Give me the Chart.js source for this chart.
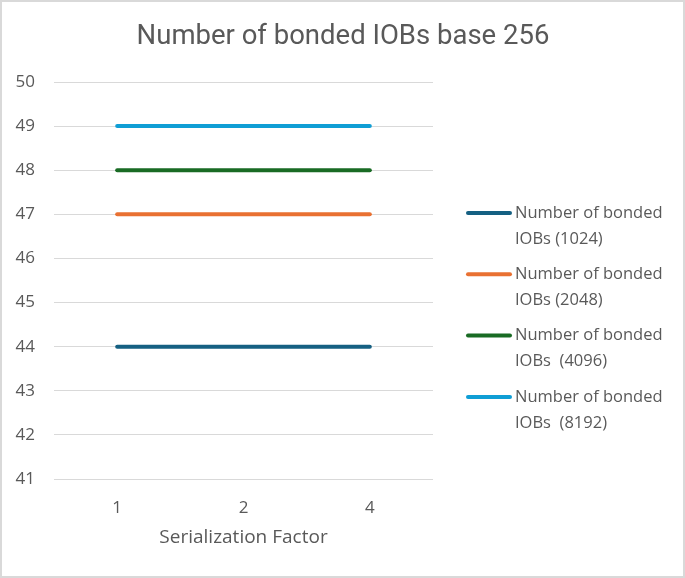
<!DOCTYPE html>
<html>
<head>
<meta charset="utf-8">
<script src="https://cdn.jsdelivr.net/npm/chart.js@4.4.1/dist/chart.umd.min.js"></script>
<style>
  html, body { margin: 0; padding: 0; background: #fff; }
</style>
</head>
<body>
<canvas id="myChart" width="685" height="578"></canvas>
<script>
// data
var categories = ['1', '2', '4'];
var iobs_1024 = [44, 44, 44];
var iobs_2048 = [47, 47, 47];
var iobs_4096 = [48, 48, 48];
var iobs_8192 = [49, 49, 49];
var yTicks = [41, 42, 43, 44, 45, 46, 47, 48, 49, 50];

var legendText = [
  ['Number of bonded', 'IOBs (1024)'],
  ['Number of bonded', 'IOBs (2048)'],
  ['Number of bonded', 'IOBs  (4096)'],
  ['Number of bonded', 'IOBs  (8192)']
];

var textColor = '#595959';
var baseFont = "'Open Sans', sans-serif";

function makeSet(label, values, color) {
  return {
    label: label,
    data: values,
    borderColor: color,
    backgroundColor: color,
    borderWidth: 4,
    borderCapStyle: 'round',
    pointRadius: 0,
    fill: false
  };
}

// title, legend and frame drawn by hand
var decor = {
  id: 'decor',
  afterDraw: function (chart) {
    var ctx = chart.ctx;
    ctx.save();
    ctx.strokeStyle = '#d9d9d9';
    ctx.lineWidth = 2;
    ctx.strokeRect(1, 1, chart.width - 2, chart.height - 2);

    ctx.fillStyle = textColor;
    ctx.textAlign = 'center';
    ctx.textBaseline = 'middle';
    ctx.font = "27.5px 'Roboto', sans-serif";
    ctx.fillText('Number of bonded IOBs base 256', 343, 37);

    ctx.font = '16.5px ' + baseFont;
    ctx.textAlign = 'left';
    chart.data.datasets.forEach(function (ds, i) {
      var y = 213 + i * 61.3;
      ctx.strokeStyle = ds.borderColor;
      ctx.lineWidth = 4;
      ctx.lineCap = 'round';
      ctx.beginPath();
      ctx.moveTo(468, y);
      ctx.lineTo(510, y);
      ctx.stroke();
      ctx.fillStyle = textColor;
      ctx.fillText(legendText[i][0], 515, y);
      ctx.fillText(legendText[i][1], 515, y + 26);
    });
    ctx.restore();
  }
};

var config = {
  type: 'line',
  data: {
    labels: categories,
    datasets: [
      makeSet('Number of bonded IOBs (1024)', iobs_1024, '#156082'),
      makeSet('Number of bonded IOBs (2048)', iobs_2048, '#e97132'),
      makeSet('Number of bonded IOBs (4096)', iobs_4096, '#196b24'),
      makeSet('Number of bonded IOBs (8192)', iobs_8192, '#0f9ed5')
    ]
  },
  options: {
    responsive: false,
    devicePixelRatio: 1,
    animation: false,
    layout: {
      padding: { top: 82, right: 252, bottom: 19, left: 0 }
    },
    plugins: {
      legend: { display: false },
      title: { display: false },
      tooltip: { enabled: false }
    },
    scales: {
      x: {
        offset: true,
        grid: { display: false },
        border: { display: false },
        ticks: {
          color: textColor,
          font: { family: baseFont, size: 17 },
          padding: 11
        },
        title: {
          display: true,
          text: 'Serialization Factor',
          color: textColor,
          font: { family: baseFont, size: 19 },
          padding: { top: 4, bottom: 10 }
        },
        afterFit: function (scale) { scale.height = 80; }
      },
      y: {
        min: yTicks[0],
        max: yTicks[yTicks.length - 1],
        grid: { color: '#d9d9d9', lineWidth: 1, drawTicks: false },
        border: { display: false },
        afterBuildTicks: function (scale) {
          scale.ticks = yTicks.map(function (v) { return { value: v }; });
        },
        ticks: {
          color: textColor,
          font: { family: baseFont, size: 17 },
          padding: 19
        },
        afterFit: function (scale) { scale.width = 54; }
      }
    }
  },
  plugins: [decor]
};

var chart = new Chart(document.getElementById('myChart'), config);
</script>
</body>
</html>
